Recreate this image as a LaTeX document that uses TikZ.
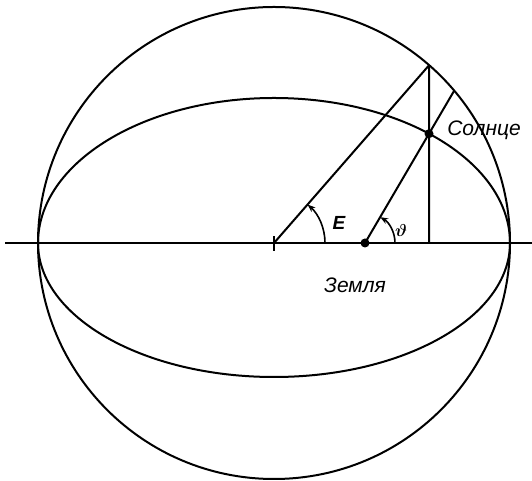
\documentclass[tikz,border=0pt]{standalone}
\usepackage{amsmath}
\usepackage{fontspec}
\setmainfont{Liberation Sans}
\usetikzlibrary{calc,arrows.meta}

\begin{document}
\begin{tikzpicture}[x=1pt,y=1pt,line width=2pt,
  lbl/.style={font=\itshape\fontsize{21}{21}\selectfont},
  dot/.style={circle,fill,inner sep=0pt,minimum size=9pt},
  ang/.style={line width=1.6pt,-{Stealth[length=8pt,width=6pt]}}]
\useasboundingbox (0,0) rectangle (532,481);
\coordinate (O) at (274,238);
\coordinate (L) at (5,238);
\coordinate (Rt) at (532,238);
\coordinate (Q) at ($(O)+(48.9:236pt)$);
\coordinate (H) at (429,238);
\node[dot] (S) at (429,347.3) {};
\node[dot] (F) at (365,238) {};
\coordinate (R) at ($(F)!1.394!(S)$);
\draw (O) circle (236pt);
\draw (O) ++(236pt,0) arc (0:180:236pt and 145pt) arc (180:360:236pt and 134pt);
\draw (L)--(Rt);
\draw ($(O)+(0,-8)$)--($(O)+(0,7)$);
\draw (O)--(Q);
\draw (Q)--(H);
\draw (F.center)--(R);
\draw[ang] ($(O)+(51,0)$) arc (0:48.9:51pt);
\draw[ang] ($(F)+(30,0)$) arc (0:59.6:30pt);
\node[font=\bfseries\itshape\fontsize{19}{19}\selectfont] (E) at (339,258) {E};
\node[font=\fontsize{19}{19}\selectfont] (V) at (401,250) {$\boldsymbol{\vartheta}$};
\node[lbl] (SL) at (484,351) {Солнце};
\node[lbl] (ZL) at (355,196) {Земля};
\end{tikzpicture}
\end{document}
